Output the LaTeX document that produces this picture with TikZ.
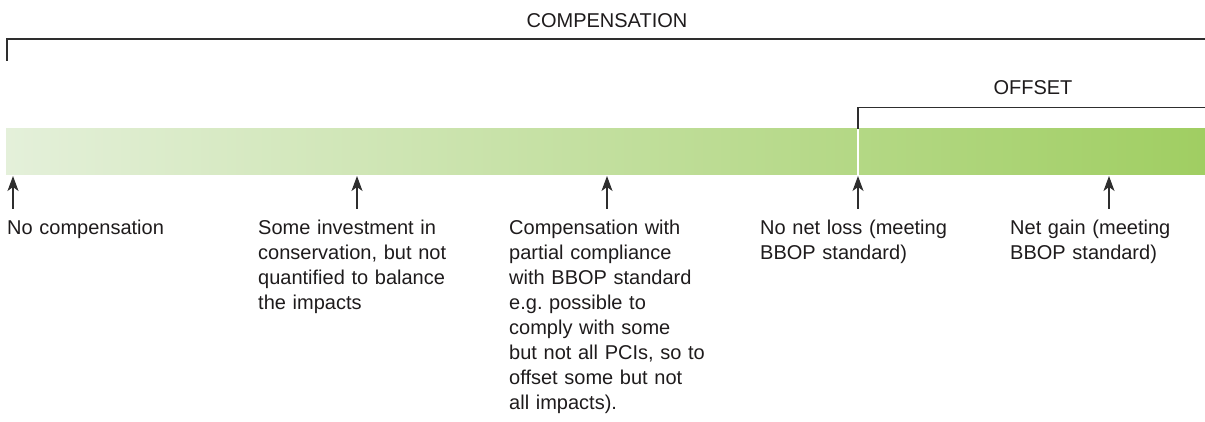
\documentclass[tikz,border=0pt]{standalone}
\usepackage{fontspec}
\setmainfont{Liberation Sans}
\usetikzlibrary{arrows.meta}
\frenchspacing
\definecolor{txt}{HTML}{1E1B1C}
\definecolor{ln}{HTML}{2E2E2E}
\definecolor{gleft}{HTML}{E4F0DA}
\definecolor{gright}{HTML}{A0CE62}
\begin{document}
\begin{tikzpicture}[x=1pt,y=-1pt,
  lbl/.style={anchor=north west,inner sep=0pt,text width=#1,align=left,
    font=\fontsize{20}{25}\selectfont,text=txt},
  lbl/.default=240pt,
  head/.style={anchor=base,inner sep=0pt,font=\fontsize{20}{24}\selectfont,text=txt},
  bracket/.style={draw=ln,line width=1.3pt},
  uparrow/.style={draw=ln,line width=1.2pt,-{Stealth[length=15pt,width=11pt,inset=4pt]}}]
\useasboundingbox (0,0) rectangle (1205,422);
% bar
\shade[left color=gleft,right color=gright] (6,129) rectangle (1205,175);
\draw[white,line width=1.2pt] (858,129) -- (858,175);
% headings and brackets
\node[head] (comp) at (607,27.3) {COMPENSATION};
\node[head] (off) at (1033,95) {OFFSET};
\coordinate (c0) at (7,61);
\coordinate (c1) at (7,39);
\coordinate (c2) at (1205,39);
\draw[bracket] (c0) -- (c1) -- (c2);
\coordinate (o0) at (858,129);
\coordinate (o1) at (858,107.3);
\coordinate (o2) at (1205,107.3);
\draw[bracket] (o0) -- (o1) -- (o2);
% arrows
\foreach \n/\x in {a/13,b/357,c/607,d/858,e/1109}{
  \coordinate (\n0) at (\x,209);
  \coordinate (\n1) at (\x,176);
  \draw[uparrow] (\n0) -- (\n1);
}
% labels
\node[lbl] (t1) at (7,219.3) {\rule{0pt}{15pt}No compensation};
\node[lbl] (t2) at (258,219.3) {\rule{0pt}{15pt}Some investment in\\conservation, but not\\quantified to balance\\the impacts};
\node[lbl] (t3) at (509,219.3) {\rule{0pt}{15pt}Compensation with\\partial compliance\\with BBOP standard\\e.g. possible to\\comply with some\\but not all PCIs, so to\\offset some but not\\all impacts).};
\node[lbl=190pt] (t4) at (760,219.3) {\rule{0pt}{15pt}No net loss (meeting\\BBOP standard)};
\node[lbl=190pt] (t5) at (1010,219.3) {\rule{0pt}{15pt}Net gain (meeting\\BBOP standard)};
\end{tikzpicture}
\end{document}
